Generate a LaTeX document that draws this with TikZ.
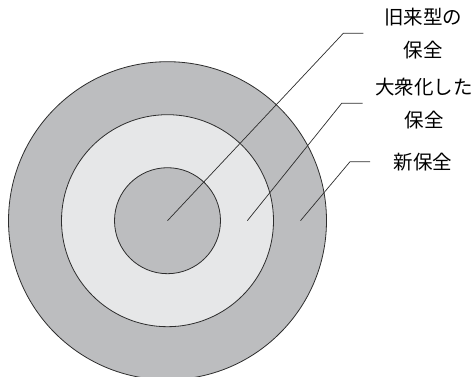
\documentclass[tikz,border=0pt]{standalone}
\usepackage{fontspec}
\newfontfamily\jpfont{Noto Sans CJK JP}
\definecolor{ringdark}{RGB}{188,189,191}
\definecolor{ringlight}{RGB}{230,231,232}
\definecolor{inkline}{RGB}{45,45,45}
\tikzset{
  ring/.style={circle, draw=inkline, line width=0.8pt, inner sep=0pt},
  leader/.style={draw=inkline, line width=0.7pt},
  lbl/.style={font=\jpfont\fontsize{19.5}{33}\selectfont, align=center, text=black, inner sep=0pt}
}
\begin{document}
\begin{tikzpicture}[x=1pt,y=-1pt]
\useasboundingbox (0,0) rectangle (474,377);
\clip (0,0) rectangle (474,377);
\node[ring, fill=ringdark, minimum size=318pt] (outer) at (167.5,220.7) {};
\node[ring, fill=ringlight, minimum size=212pt] (middle) at (167.5,220.7) {};
\node[ring, fill=ringdark, minimum size=106pt] (inner) at (167.5,220.7) {};
\coordinate (s1) at (167.5,220.7);
\coordinate (s2) at (247.3,220.7);
\coordinate (s3) at (300.5,220.7);
\coordinate (b1) at (343.3,33.3);
\coordinate (b2) at (341.7,103.3);
\coordinate (b3) at (350.0,161.7);
\coordinate (e1) at (363.3,33.3);
\coordinate (e2) at (362.7,103.3);
\coordinate (e3) at (370.0,161.7);
\node[lbl] (t1) at (423,33.3) {旧来型の\\保全};
\node[lbl] (t2) at (424,104) {大衆化した\\保全};
\node[lbl] (t3) at (423,161.7) {新保全};
\draw[leader] (s1) -- (b1) -- (e1);
\draw[leader] (s2) -- (b2) -- (e2);
\draw[leader] (s3) -- (b3) -- (e3);
\end{tikzpicture}
\end{document}
